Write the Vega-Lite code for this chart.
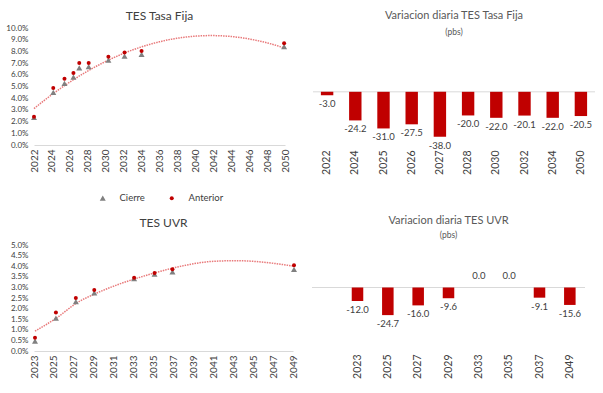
{
  "$schema": "https://vega.github.io/schema/vega-lite/v6.json",
  "background": "white",
  "padding": {"left": 5, "top": 9, "right": 5, "bottom": 5},
  "config": {
    "view": {"stroke": null},
    "font": "Lato",
    "locale": {"number": {"decimal": ".", "thousands": ",", "grouping": [3], "currency": ["$", ""], "minus": "-"}},
    "axis": {"labelFont": "Lato", "labelColor": "#404040", "grid": false, "ticks": false, "title": null},
    "title": {"font": "Lato", "fontWeight": "normal", "color": "#595959", "subtitleFont": "Lato", "subtitleColor": "#595959"}
  },
  "resolve": {
    "scale": {"color": "independent", "shape": "independent", "size": "independent"},
    "legend": {"color": "independent", "shape": "independent", "size": "independent"}
  },
  "datasets": {
    "fija": [
      {"plazo": 2022.0, "serie": "Cierre", "tasa": 2.35},
      {"plazo": 2024.15, "serie": "Cierre", "tasa": 4.5},
      {"plazo": 2025.4, "serie": "Cierre", "tasa": 5.27},
      {"plazo": 2026.4, "serie": "Cierre", "tasa": 5.8},
      {"plazo": 2027.05, "serie": "Cierre", "tasa": 6.6},
      {"plazo": 2028.1, "serie": "Cierre", "tasa": 6.7},
      {"plazo": 2030.3, "serie": "Cierre", "tasa": 7.25},
      {"plazo": 2032.1, "serie": "Cierre", "tasa": 7.6},
      {"plazo": 2034.0, "serie": "Cierre", "tasa": 7.74},
      {"plazo": 2049.9, "serie": "Cierre", "tasa": 8.4},
      {"plazo": 2022.0, "serie": "Anterior", "tasa": 2.42},
      {"plazo": 2024.15, "serie": "Anterior", "tasa": 4.87},
      {"plazo": 2025.4, "serie": "Anterior", "tasa": 5.67},
      {"plazo": 2026.4, "serie": "Anterior", "tasa": 6.16},
      {"plazo": 2027.05, "serie": "Anterior", "tasa": 7.0},
      {"plazo": 2028.1, "serie": "Anterior", "tasa": 7.0},
      {"plazo": 2030.3, "serie": "Anterior", "tasa": 7.54},
      {"plazo": 2032.1, "serie": "Anterior", "tasa": 7.9},
      {"plazo": 2034.0, "serie": "Anterior", "tasa": 8.03},
      {"plazo": 2049.9, "serie": "Anterior", "tasa": 8.69}
    ],
    "uvr": [
      {"plazo": 2023.1, "serie": "Cierre", "tasa": 0.47},
      {"plazo": 2025.2, "serie": "Cierre", "tasa": 1.55},
      {"plazo": 2027.2, "serie": "Cierre", "tasa": 2.33},
      {"plazo": 2029.05, "serie": "Cierre", "tasa": 2.74},
      {"plazo": 2033.05, "serie": "Cierre", "tasa": 3.41},
      {"plazo": 2035.1, "serie": "Cierre", "tasa": 3.62},
      {"plazo": 2036.9, "serie": "Cierre", "tasa": 3.73},
      {"plazo": 2049.1, "serie": "Cierre", "tasa": 3.85},
      {"plazo": 2023.1, "serie": "Anterior", "tasa": 0.63},
      {"plazo": 2025.2, "serie": "Anterior", "tasa": 1.82},
      {"plazo": 2027.2, "serie": "Anterior", "tasa": 2.5},
      {"plazo": 2029.05, "serie": "Anterior", "tasa": 2.88},
      {"plazo": 2033.05, "serie": "Anterior", "tasa": 3.45},
      {"plazo": 2035.1, "serie": "Anterior", "tasa": 3.68},
      {"plazo": 2036.9, "serie": "Anterior", "tasa": 3.86},
      {"plazo": 2049.1, "serie": "Anterior", "tasa": 4.05}
    ],
    "uvrTrend": [
      {"plazo": 2023.1, "tasa": 0.94},
      {"plazo": 2025.3, "tasa": 1.57},
      {"plazo": 2027.3, "tasa": 2.27},
      {"plazo": 2029.1, "tasa": 2.69},
      {"plazo": 2030.95, "tasa": 3.05},
      {"plazo": 2033.1, "tasa": 3.4},
      {"plazo": 2035.1, "tasa": 3.68},
      {"plazo": 2037.0, "tasa": 3.92},
      {"plazo": 2038.6, "tasa": 4.08},
      {"plazo": 2041.0, "tasa": 4.23},
      {"plazo": 2043.3, "tasa": 4.26},
      {"plazo": 2045.0, "tasa": 4.23},
      {"plazo": 2047.3, "tasa": 4.12},
      {"plazo": 2049.2, "tasa": 3.99}
    ],
    "fijaVar": [
      {"bono": "2022", "var": -3.0},
      {"bono": "2024", "var": -24.2},
      {"bono": "2025", "var": -31.0},
      {"bono": "2026", "var": -27.5},
      {"bono": "2027", "var": -38.0},
      {"bono": "2028", "var": -20.0},
      {"bono": "2030", "var": -22.0},
      {"bono": "2032", "var": -20.1},
      {"bono": "2034", "var": -22.0},
      {"bono": "2050", "var": -20.5}
    ],
    "uvrVar": [
      {"bono": "2023", "var": -12.0},
      {"bono": "2025", "var": -24.7},
      {"bono": "2027", "var": -16.0},
      {"bono": "2029", "var": -9.6},
      {"bono": "2033", "var": 0.0},
      {"bono": "2035", "var": 0.0},
      {"bono": "2037", "var": -9.1},
      {"bono": "2049", "var": -15.6}
    ]
  },
  "vconcat": [
    {
      "resolve": {
        "scale": {"color": "independent", "shape": "independent", "size": "independent"},
        "legend": {"color": "independent", "shape": "independent", "size": "independent"}
      },
      "hconcat": [
        {
          "width": 251,
          "height": 117,
          "title": {"text": "TES Tasa Fija", "fontSize": 12, "color": "#404040", "offset": 1},
          "data": {"name": "fija"},
          "encoding": {
            "x": {
              "field": "plazo", "type": "quantitative",
              "scale": {"domain": [2022, 2050], "nice": false, "zero": false},
              "axis": {"values": [2022, 2024, 2026, 2028, 2030, 2032, 2034, 2036, 2038, 2040, 2042, 2044, 2046, 2048, 2050], "format": "d", "labelAngle": -90, "labelFontSize": 10, "labelPadding": 4, "domainColor": "#D9D9D9", "labelFlush": false, "labelOverlap": false}
            },
            "y": {
              "field": "tasa", "type": "quantitative",
              "scale": {"domain": [0, 10], "nice": false},
              "axis": {"values": [0, 1, 2, 3, 4, 5, 6, 7, 8, 9, 10], "labelExpr": "format(datum.value, '.1f') + '%'", "labelFontSize": 8, "labelPadding": 6, "domain": false, "labelFlush": false, "labelOverlap": false}
            }
          },
          "layer": [
            {
              "transform": [
                {"filter": "datum.serie == 'Cierre'"},
                {"regression": "tasa", "on": "plazo", "method": "poly", "order": 2, "extent": [2022, 2050]}
              ],
              "mark": {"type": "line", "color": "#E8797A", "strokeDash": [1.5, 1], "strokeWidth": 1.5, "interpolate": "monotone"}
            },
            {
              "mark": {"type": "point", "filled": true, "opacity": 1},
              "encoding": {
                "shape": {"field": "serie", "type": "nominal", "scale": {"domain": ["Cierre", "Anterior"], "range": ["triangle-up", "circle"]}, "legend": {"title": null, "orient": "none", "legendX": 64, "legendY": 165, "direction": "horizontal", "labelFontSize": 9.5, "labelColor": "#404040", "columnPadding": 22, "labelOffset": 12}},
                "color": {"field": "serie", "type": "nominal", "scale": {"domain": ["Cierre", "Anterior"], "range": ["#808080", "#C00000"]}},
                "size": {"field": "serie", "type": "nominal", "scale": {"domain": ["Cierre", "Anterior"], "range": [36, 16]}}
              }
            }
          ]
        },
        {
          "width": 282,
          "height": 117,
          "title": {"text": "Variacion diaria TES Tasa Fija", "subtitle": "(pbs)", "fontSize": 11, "subtitleFontSize": 8.5, "subtitlePadding": 7, "offset": -8},
          "layer": [
            {
              "data": {"values": [{}]},
              "mark": {"type": "rule", "color": "#D9D9D9", "strokeWidth": 1},
              "encoding": {"y": {"datum": 0, "type": "quantitative", "scale": {"domain": [-45, 54], "nice": false}}}
            },
            {
              "data": {"name": "fijaVar"},
              "mark": {"type": "bar", "color": "#C00000"},
              "encoding": {
                "x": {"field": "bono", "type": "nominal", "sort": null, "scale": {"paddingInner": 0.56, "paddingOuter": 0.28}, "axis": {"labelAngle": -90, "labelFontSize": 10.5, "labelPadding": 5, "domain": false}},
                "y": {"field": "var", "type": "quantitative", "scale": {"domain": [-45, 54], "nice": false}, "axis": null}
              }
            },
            {
              "data": {"name": "fijaVar"},
              "transform": [{"filter": "datum.var < 0"}],
              "mark": {"type": "text", "baseline": "top", "dy": 4, "fontSize": 9.5, "color": "#404040"},
              "encoding": {
                "x": {"field": "bono", "type": "nominal", "sort": null},
                "y": {"field": "var", "type": "quantitative"},
                "text": {"field": "var", "type": "quantitative", "format": ".1f"}
              }
            }
          ]
        }
      ],
      "spacing": 22
    },
    {
      "resolve": {
        "scale": {"color": "independent", "shape": "independent", "size": "independent"},
        "legend": {"color": "independent", "shape": "independent", "size": "independent"}
      },
      "hconcat": [
        {
          "width": 259,
          "height": 106,
          "title": {"text": "TES UVR", "fontSize": 12, "color": "#404040", "offset": 11},
          "encoding": {
            "x": {
              "field": "plazo", "type": "quantitative",
              "scale": {"domain": [2023, 2049], "nice": false, "zero": false},
              "axis": {"values": [2023, 2025, 2027, 2029, 2031, 2033, 2035, 2037, 2039, 2041, 2043, 2045, 2047, 2049], "format": "d", "labelAngle": -90, "labelFontSize": 10, "labelPadding": 4, "domainColor": "#D9D9D9", "labelFlush": false, "labelOverlap": false}
            },
            "y": {
              "field": "tasa", "type": "quantitative",
              "scale": {"domain": [0, 5], "nice": false},
              "axis": {"values": [0, 0.5, 1, 1.5, 2, 2.5, 3, 3.5, 4, 4.5, 5], "labelExpr": "format(datum.value, '.1f') + '%'", "labelFontSize": 8, "labelPadding": 6, "domain": false, "labelFlush": false, "labelOverlap": false}
            }
          },
          "layer": [
            {
              "data": {"name": "uvrTrend"},
              "mark": {"type": "line", "color": "#E8797A", "strokeDash": [1.5, 1], "strokeWidth": 1.5, "interpolate": "monotone"}
            },
            {
              "data": {"name": "uvr"},
              "mark": {"type": "point", "filled": true, "opacity": 1},
              "encoding": {
                "shape": {"field": "serie", "type": "nominal", "scale": {"domain": ["Cierre", "Anterior"], "range": ["triangle-up", "circle"]}, "legend": null},
                "color": {"field": "serie", "type": "nominal", "scale": {"domain": ["Cierre", "Anterior"], "range": ["#808080", "#C00000"]}, "legend": null},
                "size": {"field": "serie", "type": "nominal", "scale": {"domain": ["Cierre", "Anterior"], "range": [36, 16]}, "legend": null}
              }
            }
          ]
        },
        {
          "width": 273,
          "height": 104,
          "title": {"text": "Variacion diaria TES UVR", "subtitle": "(pbs)", "fontSize": 11, "subtitleFontSize": 8.5, "subtitlePadding": 5, "offset": 6},
          "layer": [
            {
              "data": {"values": [{}]},
              "mark": {"type": "rule", "color": "#D9D9D9", "strokeWidth": 1},
              "encoding": {"y": {"datum": 0, "type": "quantitative", "scale": {"domain": [-55, 38], "nice": false}}}
            },
            {
              "data": {"name": "uvrVar"},
              "mark": {"type": "bar", "color": "#C00000"},
              "encoding": {
                "x": {"field": "bono", "type": "nominal", "sort": null, "scale": {"domain": [" ", "2023", "2025", "2027", "2029", "2033", "2035", "2037", "2049"], "paddingInner": 0.62, "paddingOuter": 0.31}, "axis": {"labelAngle": -90, "labelFontSize": 10.5, "labelPadding": 5, "domain": false}},
                "y": {"field": "var", "type": "quantitative", "scale": {"domain": [-55, 38], "nice": false}, "axis": null}
              }
            },
            {
              "data": {"name": "uvrVar"},
              "transform": [{"filter": "datum.var < 0"}],
              "mark": {"type": "text", "baseline": "top", "dy": 4, "fontSize": 9.5, "color": "#404040"},
              "encoding": {
                "x": {"field": "bono", "type": "nominal"},
                "y": {"field": "var", "type": "quantitative"},
                "text": {"field": "var", "type": "quantitative", "format": ".1f"}
              }
            },
            {
              "data": {"name": "uvrVar"},
              "transform": [{"filter": "datum.var >= 0"}],
              "mark": {"type": "text", "baseline": "bottom", "dy": -6, "fontSize": 9.5, "color": "#404040"},
              "encoding": {
                "x": {"field": "bono", "type": "nominal"},
                "y": {"field": "var", "type": "quantitative"},
                "text": {"field": "var", "type": "quantitative", "format": ".1f"}
              }
            }
          ]
        }
      ],
      "spacing": 13
    }
  ],
  "spacing": 11
}
